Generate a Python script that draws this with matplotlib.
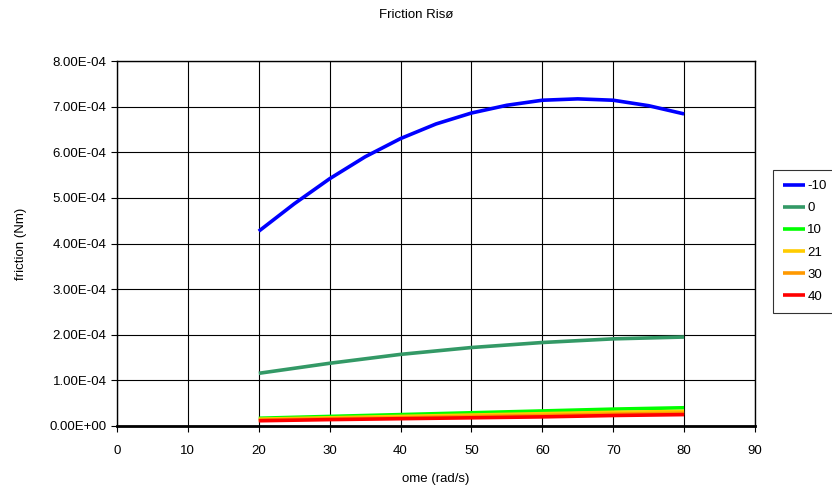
import matplotlib.pyplot as plt

plt.rcParams['font.family'] = ['Liberation Sans', 'DejaVu Sans']

# data
OME_FINE = [20, 25, 30, 35, 40, 45, 50, 55, 60, 65, 70, 75, 80]
OME = [20, 30, 40, 50, 60, 70, 80]
TEMPS = ["-10", "0", "10", "21", "30", "40"]
COLORS = ["#0000ff", "#339966", "#00ff00", "#ffcc00", "#ff9900", "#ff0000"]
FRIC_M10 = [4.27e-4, 4.87e-4, 5.42e-4, 5.90e-4, 6.30e-4, 6.62e-4, 6.86e-4,
            7.03e-4, 7.14e-4, 7.17e-4, 7.14e-4, 7.02e-4, 6.84e-4]
FRIC_0 = [1.155e-4, 1.375e-4, 1.57e-4, 1.72e-4, 1.83e-4, 1.91e-4, 1.95e-4]
FRIC_10 = [1.7e-5, 2.1e-5, 2.5e-5, 2.9e-5, 3.3e-5, 3.7e-5, 4.0e-5]
FRIC_21 = [1.5e-5, 1.8e-5, 2.1e-5, 2.4e-5, 2.7e-5, 3.0e-5, 3.2e-5]
FRIC_30 = [1.3e-5, 1.6e-5, 1.8e-5, 2.1e-5, 2.3e-5, 2.6e-5, 2.8e-5]
FRIC_40 = [1.15e-5, 1.4e-5, 1.6e-5, 1.8e-5, 2.0e-5, 2.3e-5, 2.5e-5]

series = [(OME_FINE, FRIC_M10), (OME, FRIC_0), (OME, FRIC_10),
          (OME, FRIC_21), (OME, FRIC_30), (OME, FRIC_40)]

fig = plt.figure(figsize=(8.32, 4.91), dpi=100)
ax = fig.add_axes([117 / 832, 1 - 426 / 491, (755 - 117) / 832, (426 - 61) / 491])

for name, col, (xs, ys) in zip(TEMPS, COLORS, series):
    ax.plot(xs, ys, color=col, linewidth=2.6, label=name,
            solid_joinstyle='round', solid_capstyle='butt')

ax.set_xlim(0, 90)
ax.set_ylim(0, 8e-4)
ax.set_xticks(range(0, 91, 10))
ax.set_yticks([i * 1e-4 for i in range(9)])
ax.set_yticklabels([f"{i:.2f}E-04" if i else "0.00E+00" for i in range(9)])
ax.grid(True, color='black', linewidth=0.8)
ax.set_axisbelow(True)
ax.tick_params(labelsize=9.5, length=4, direction='out')
ax.tick_params(axis='x', pad=10)
for s in ax.spines.values():
    s.set_linewidth(1.0)
ax.spines['bottom'].set_linewidth(2)

ax.set_xlabel("ome (rad/s)", fontsize=9.5, labelpad=11)
ax.set_ylabel("friction (Nm)", fontsize=9.5, labelpad=16)
fig.text(0.5, 1 - 15 / 491, "Friction Risø", ha='center', va='center', fontsize=9.5)

leg = fig.legend(loc='upper left', bbox_to_anchor=(773 / 832, 1 - 170 / 491),
                 fontsize=9.5, frameon=True, fancybox=False, handlelength=1.7,
                 handletextpad=0.15, borderpad=0.75, labelspacing=0.75,
                 borderaxespad=0)
leg.get_frame().set_edgecolor('black')
leg.get_frame().set_linewidth(0.8)

fig.savefig("out.png", dpi=100)
